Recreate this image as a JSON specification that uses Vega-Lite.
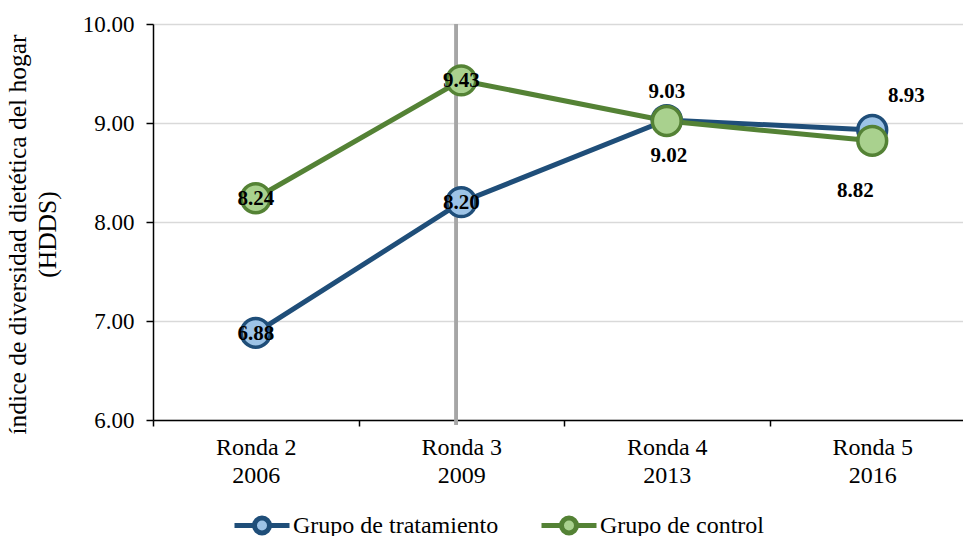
{
  "$schema": "https://vega.github.io/schema/vega-lite/v6.json",
  "width": 822,
  "height": 396,
  "padding": {"left": 5, "top": 13, "right": 0, "bottom": 0},
  "background": "white",
  "config": {
    "view": {"stroke": null},
    "font": "Liberation Serif",
    "axis": {"labelFont": "Liberation Serif", "titleFont": "Liberation Serif", "labelColor": "black", "titleColor": "black"}
  },
  "data": {
    "values": [
      {"ronda": "Ronda 2|2006", "grupo": "Grupo de tratamiento", "valor": 6.88},
      {"ronda": "Ronda 3|2009", "grupo": "Grupo de tratamiento", "valor": 8.20},
      {"ronda": "Ronda 4|2013", "grupo": "Grupo de tratamiento", "valor": 9.03},
      {"ronda": "Ronda 5|2016", "grupo": "Grupo de tratamiento", "valor": 8.93},
      {"ronda": "Ronda 2|2006", "grupo": "Grupo de control", "valor": 8.24},
      {"ronda": "Ronda 3|2009", "grupo": "Grupo de control", "valor": 9.43},
      {"ronda": "Ronda 4|2013", "grupo": "Grupo de control", "valor": 9.02},
      {"ronda": "Ronda 5|2016", "grupo": "Grupo de control", "valor": 8.82}
    ]
  },
  "encoding": {
    "x": {
      "field": "ronda", "type": "ordinal", "sort": null,
      "scale": {"type": "band", "paddingInner": 0, "paddingOuter": 0, "domain": ["Ronda 2|2006", "Ronda 3|2009", "Ronda 4|2013", "Ronda 5|2016"]},
      "axis": {
        "title": null, "labelAngle": 0, "labelExpr": "split(datum.label, '|')",
        "labelFontSize": 24, "labelLineHeight": 28, "labelPadding": 9,
        "tickBand": "extent", "tickSize": 6, "tickColor": "black", "tickWidth": 1.5,
        "domainColor": "black", "domainWidth": 1.5, "grid": false
      }
    },
    "y": {
      "field": "valor", "type": "quantitative",
      "scale": {"domain": [6, 10], "zero": false, "nice": false},
      "axis": {
        "title": ["índice de diversidad dietética del hogar", "(HDDS)"],
        "titleFontSize": 25.5, "titleFontWeight": "normal", "titleLineHeight": 30, "titlePadding": 22, "titleY": 210,
        "values": [6, 7, 8, 9, 10], "format": ".2f",
        "labelFontSize": 23, "labelPadding": 12,
        "tickSize": 7, "tickColor": "black", "tickWidth": 1.5,
        "domainColor": "black", "domainWidth": 1.5,
        "gridColor": "#D9D9D9", "gridWidth": 1.5
      }
    }
  },
  "layer": [
    {
      "mark": {"type": "rule", "color": "#A6A6A6", "strokeWidth": 3, "xOffset": -5},
      "encoding": {
        "x": {"datum": "Ronda 3|2009"},
        "y": {"datum": 10},
        "y2": {"datum": 5.95}
      }
    },
    {
      "mark": {"type": "line", "strokeWidth": 5},
      "encoding": {
        "color": {
          "field": "grupo", "type": "nominal",
          "scale": {"domain": ["Grupo de tratamiento", "Grupo de control"], "range": ["#1F4E79", "#548235"]},
          "legend": {
            "title": null, "orient": "none", "direction": "horizontal",
            "legendX": 96.5, "legendY": 489,
            "symbolType": "M-2.75,0L-0.75,0M0.75,0L2.75,0M-0.75,0A0.75,0.75,0,1,0,0.75,0A0.75,0.75,0,1,0,-0.75,0Z",
            "symbolSize": 400, "symbolStrokeWidth": 5,
            "labelFont": "Liberation Serif", "labelFontSize": 24, "labelColor": "black", "labelLimit": 500,
            "labelOffset": 18.5, "columnPadding": 33,
            "encode": {"symbols": {"update": {"fill": {"signal": "datum.value === 'Grupo de tratamiento' ? '#9DC3E6' : '#A9D18E'"}, "fillOpacity": {"value": 1}}}}
          }
        }
      }
    },
    {
      "mark": {"type": "point", "shape": "circle", "size": 830, "strokeWidth": 3.5, "filled": false, "opacity": 1},
      "encoding": {
        "color": {"field": "grupo", "type": "nominal", "legend": null},
        "fill": {
          "field": "grupo", "type": "nominal", "legend": null,
          "scale": {"domain": ["Grupo de tratamiento", "Grupo de control"], "range": ["#9DC3E6", "#A9D18E"]}
        },
        "fillOpacity": {"value": 1}
      }
    },
    {
      "transform": [{"filter": "indexof(['Ronda 2|2006','Ronda 3|2009'], datum.ronda) >= 0"}],
      "mark": {"type": "text", "font": "Liberation Serif", "fontSize": 21, "fontWeight": "bold", "color": "black", "baseline": "middle", "dy": 1},
      "encoding": {"text": {"field": "valor", "type": "quantitative", "format": ".2f"}}
    },
    {
      "transform": [{"filter": "datum.ronda === 'Ronda 4|2013' && datum.grupo === 'Grupo de tratamiento'"}],
      "mark": {"type": "text", "font": "Liberation Serif", "fontSize": 21, "fontWeight": "bold", "color": "black", "baseline": "middle", "dy": -28},
      "encoding": {"text": {"field": "valor", "type": "quantitative", "format": ".2f"}}
    },
    {
      "transform": [{"filter": "datum.ronda === 'Ronda 4|2013' && datum.grupo === 'Grupo de control'"}],
      "mark": {"type": "text", "font": "Liberation Serif", "fontSize": 21, "fontWeight": "bold", "color": "black", "baseline": "middle", "dy": 35, "dx": 2},
      "encoding": {"text": {"field": "valor", "type": "quantitative", "format": ".2f"}}
    },
    {
      "transform": [{"filter": "datum.ronda === 'Ronda 5|2016' && datum.grupo === 'Grupo de tratamiento'"}],
      "mark": {"type": "text", "font": "Liberation Serif", "fontSize": 21, "fontWeight": "bold", "color": "black", "baseline": "middle", "dy": -34, "dx": 34},
      "encoding": {"text": {"field": "valor", "type": "quantitative", "format": ".2f"}}
    },
    {
      "transform": [{"filter": "datum.ronda === 'Ronda 5|2016' && datum.grupo === 'Grupo de control'"}],
      "mark": {"type": "text", "font": "Liberation Serif", "fontSize": 21, "fontWeight": "bold", "color": "black", "baseline": "middle", "dy": 50, "dx": -17},
      "encoding": {"text": {"field": "valor", "type": "quantitative", "format": ".2f"}}
    }
  ]
}
